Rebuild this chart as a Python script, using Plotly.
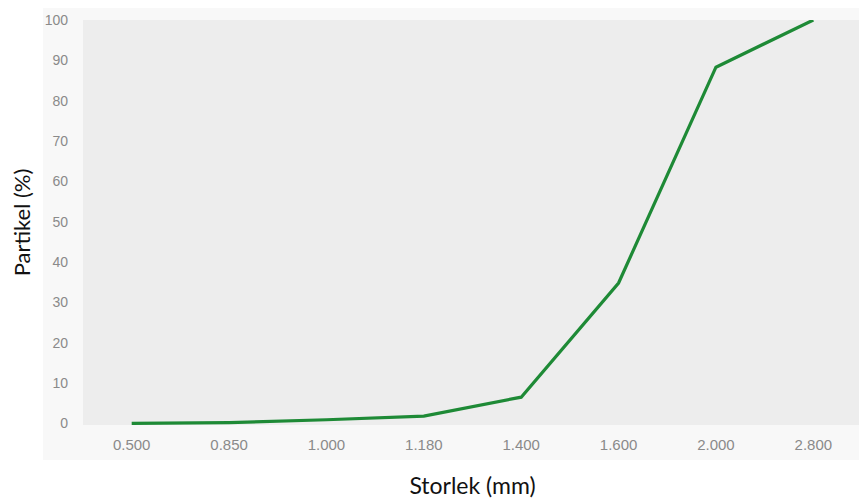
import plotly.graph_objects as go

sizes = ["0.500", "0.850", "1.000", "1.180", "1.400", "1.600", "2.000", "2.800"]
partikel = [0.0, 0.2, 0.9, 1.8, 6.5, 34.8, 88.3, 100.0]
y_ticks = [0, 10, 20, 30, 40, 50, 60, 70, 80, 90, 100]

fig = go.Figure()
fig.add_trace(go.Scatter(
    x=sizes, y=partikel, mode="lines",
    line=dict(color="#1e8a36", width=3.2),
    showlegend=False,
))

fig.add_shape(type="rect", xref="paper", yref="paper",
              x0=-0.0513, x1=1.02, y0=-0.0864, y1=1.03,
              fillcolor="#f8f8f8", line=dict(width=0), layer="below")
fig.add_shape(type="rect", xref="paper", yref="paper",
              x0=0, x1=1, y0=0, y1=1,
              fillcolor="#ededed", line=dict(width=0), layer="below")

fig.update_layout(
    width=867, height=500,
    margin=dict(l=75, r=13, t=12, b=83),
    paper_bgcolor="white",
    plot_bgcolor="#ededed",
    font=dict(family="Lato, Open Sans, sans-serif", color="#222"),
    xaxis=dict(
        type="category", range=[-0.5, 7.5], showgrid=False, zeroline=False,
        showline=False, ticks="", automargin=False,
        tickfont=dict(size=15, color="#8a8a8a", family="Liberation Sans"),
        ticklabelstandoff=9,
        title=dict(text="Storlek (mm)", font=dict(size=23, color="#111"), standoff=25),
    ),
    yaxis=dict(
        range=[-0.4, 100], tickvals=y_ticks, showgrid=False, zeroline=False,
        showline=False, ticks="", automargin=False,
        tickfont=dict(size=14, color="#8a8a8a", family="Liberation Sans"),
        ticklabelstandoff=14,
        title=dict(text="Partikel (%)", font=dict(size=22, color="#111"), standoff=16),
    ),
)

fig.write_html("out.html")
